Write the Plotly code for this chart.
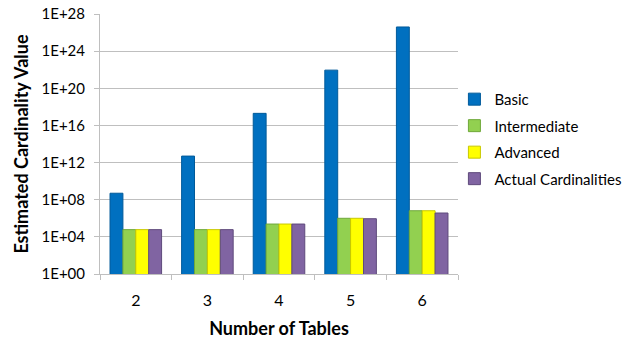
import plotly.graph_objects as go

# Number of joined tables
tables = ["2", "3", "4", "5", "6"]

# Estimated cardinalities per estimation method
basic = [5e8, 5e12, 2e17, 9e21, 4e26]
intermediate = [6e4, 6e4, 2.4e5, 1.0e6, 6.5e6]
advanced = [6e4, 6e4, 2.4e5, 1.0e6, 6.5e6]
actual = [6e4, 6e4, 2.4e5, 0.9e6, 3.7e6]

series = [
    ("Basic", basic, "#0070C0", "#005A9A"),
    ("Intermediate", intermediate, "#92D050", "#6FA83A"),
    ("Advanced", advanced, "#FFFF00", "#C8C800"),
    ("Actual Cardinalities", actual, "#8064A2", "#5F4A7C"),
]

tick_exps = list(range(0, 29, 4))
tick_vals = [10.0 ** e for e in tick_exps]
tick_text = [f"1E+{e:02d}" for e in tick_exps]

fig = go.Figure()
for i, (name, vals, color, edge) in enumerate(series):
    fig.add_trace(go.Bar(
        x=tables, y=vals, name=name,
        marker=dict(color=color, line=dict(color=edge, width=1)),
        legendgroup=f"g{i}",
    ))

font_family = "Lato, 'Open Sans', sans-serif"

fig.update_layout(
    width=633, height=345,
    margin=dict(l=100, r=175, t=14, b=71, autoexpand=False),
    paper_bgcolor="white", plot_bgcolor="white",
    barmode="group", bargap=0.28, bargroupgap=0.0,
    font=dict(family=font_family, size=14, color="#000000"),
    showlegend=True,
    legend=dict(
        x=0.99, y=0.735, xanchor="left", yanchor="top",
        font=dict(size=15, color="#000000"),
        tracegroupgap=4, itemwidth=30,
        bgcolor="rgba(0,0,0,0)",
    ),
    xaxis=dict(
        type="category", automargin=False,
        showline=True, linecolor="#BFBFBF", linewidth=1,
        ticks="outside", ticklen=5, tickcolor="#BFBFBF",
        tickson="boundaries",
        ticklabelstandoff=12,
        tickfont=dict(size=16),
        title=dict(text="<b>Number of Tables</b>", font=dict(size=18), standoff=14),
        showgrid=False,
    ),
    yaxis=dict(
        type="log", range=[0, 28], automargin=False,
        tickvals=tick_vals, ticktext=tick_text,
        showline=True, linecolor="#BFBFBF", linewidth=1,
        ticks="outside", ticklen=5, tickcolor="#BFBFBF",
        ticklabelstandoff=6,
        showgrid=True, gridcolor="#BFBFBF", gridwidth=1,
        tickfont=dict(size=15),
        title=dict(text="<b>Estimated Cardinality Value</b>", font=dict(size=18), standoff=8),
        zeroline=False,
    ),
)

fig.write_html("out.html")
